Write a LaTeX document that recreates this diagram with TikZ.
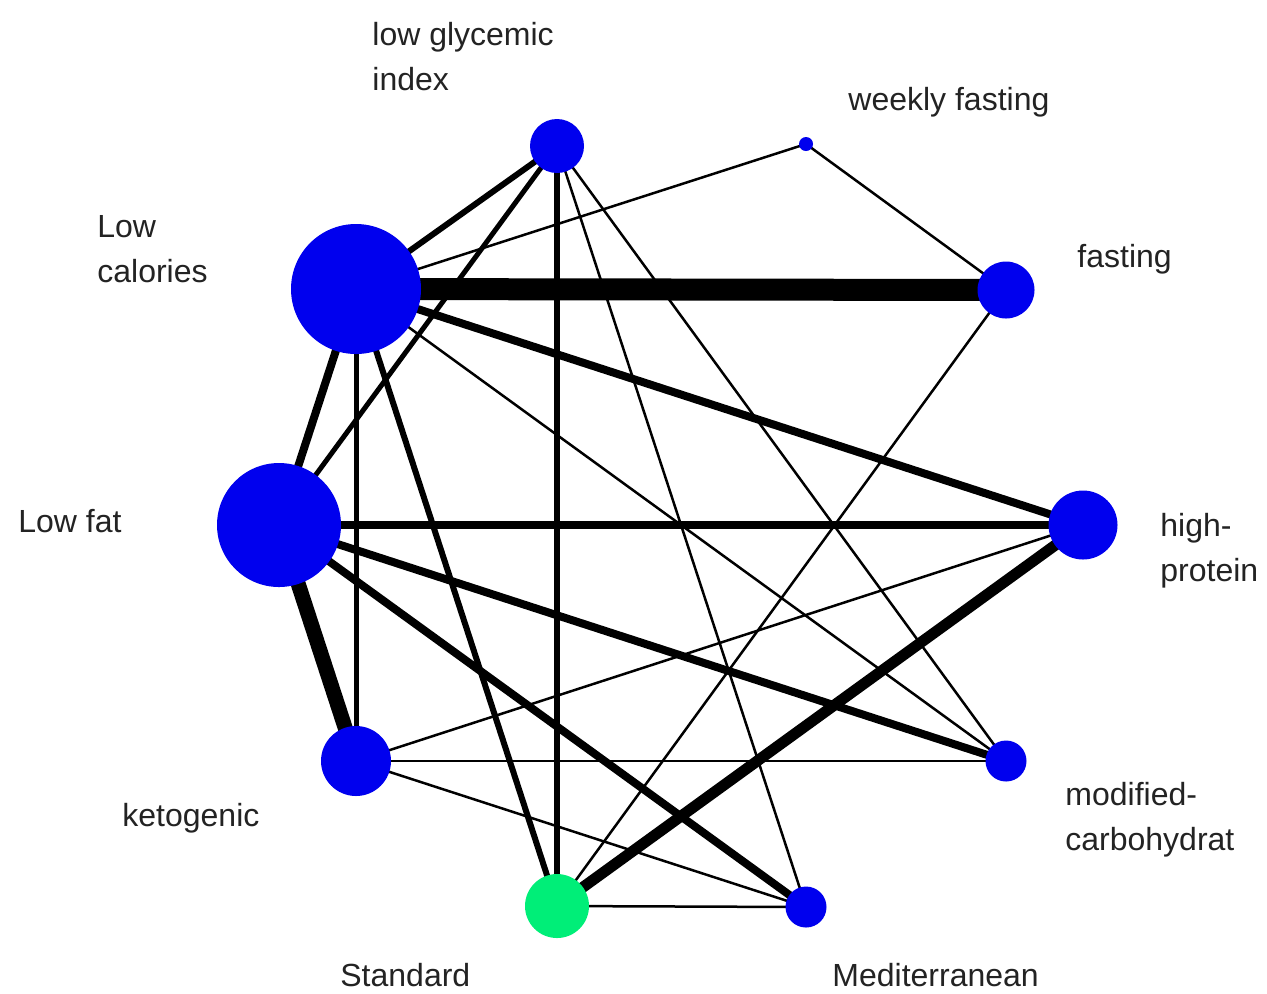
\documentclass[tikz,border=0pt]{standalone}
\usepackage{fontspec}
\setmainfont{Liberation Sans}
\usetikzlibrary{backgrounds}
\definecolor{nodeblue}{RGB}{0,0,238}
\definecolor{stdgreen}{RGB}{0,238,120}
\definecolor{labelgray}{RGB}{35,35,35}
\begin{document}
\begin{tikzpicture}[x=0.5pt,y=-0.5pt,
  dot/.style={circle,fill=nodeblue,draw=none,inner sep=0pt},
  lbl/.style={font=\fontsize{16}{22.5}\selectfont,text=labelgray,align=left,anchor=west,inner sep=0pt},
  ethin/.style={line width=1.25pt,black},
  efive/.style={line width=2.5pt,black},
  esix/.style={line width=3pt,black},
  eeight/.style={line width=4pt,black},
  eeleven/.style={line width=5.5pt,black},
  efifteen/.style={line width=7.5pt,black},
  etwentytwo/.style={line width=11pt,black}]
\useasboundingbox (0,0) rectangle (1267,993);
% nodes
\node[dot,minimum size=54pt*0.5] (lgi) at (557,146) {};
\node[dot,minimum size=14pt*0.5] (wf) at (806,144) {};
\node[dot,minimum size=57pt*0.5] (f) at (1006,290) {};
\node[dot,minimum size=69pt*0.5] (hp) at (1083,525) {};
\node[dot,minimum size=41pt*0.5] (mc) at (1006,761) {};
\node[dot,minimum size=41pt*0.5] (med) at (806,907) {};
\node[circle,fill=stdgreen,draw=none,inner sep=0pt,minimum size=64pt*0.5] (std) at (557,906) {};
\node[dot,minimum size=70pt*0.5] (k) at (356,761) {};
\node[dot,minimum size=124pt*0.5] (lf) at (279,525) {};
\node[dot,minimum size=130pt*0.5] (lc) at (356,289) {};
% labels
\node[lbl] (llgi) at (372,57) {low glycemic\\index};
\node[lbl] (lwf) at (848,102) {weekly fasting};
\node[lbl] (llc) at (97,249) {Low\\calories};
\node[lbl] (lf_l) at (1077,259) {fasting};
\node[lbl] (llf) at (18,521) {Low fat};
\node[lbl] (lhp) at (1160,551) {high-\\protein};
\node[lbl] (lk) at (122,818) {ketogenic};
\node[lbl] (lmc) at (1065,820) {modified-\\carbohydrat};
\node[lbl] (lstd) at (340,975) {Standard};
\node[lbl] (lmed) at (832,975) {Mediterranean};
% edges
\begin{scope}[on background layer]
\fill[white] (0,0) rectangle (1267,993);
\draw[etwentytwo] (lc.center) -- (f.center);
\draw[efifteen] (lf.center) -- (k.center);
\draw[eeleven] (std.center) -- (hp.center);
\draw[eeight] (lc.center) -- (lf.center);
\draw[eeight] (lc.center) -- (hp.center);
\draw[eeight] (lf.center) -- (hp.center);
\draw[eeight] (lf.center) -- (mc.center);
\draw[eeight] (lf.center) -- (med.center);
\draw[esix] (lc.center) -- (lgi.center);
\draw[esix] (lgi.center) -- (std.center);
\draw[esix] (lc.center) -- (std.center);
\draw[efive] (lgi.center) -- (lf.center);
\draw[efive] (lc.center) -- (k.center);
\draw[ethin] (lc.center) -- (wf.center);
\draw[ethin] (wf.center) -- (f.center);
\draw[ethin] (f.center) -- (std.center);
\draw[ethin] (lgi.center) -- (med.center);
\draw[ethin] (lgi.center) -- (mc.center);
\draw[ethin] (lc.center) -- (mc.center);
\draw[ethin] (k.center) -- (hp.center);
\draw[ethin] (k.center) -- (mc.center);
\draw[ethin] (k.center) -- (med.center);
\draw[ethin] (std.center) -- (med.center);
\end{scope}
\end{tikzpicture}
\end{document}
